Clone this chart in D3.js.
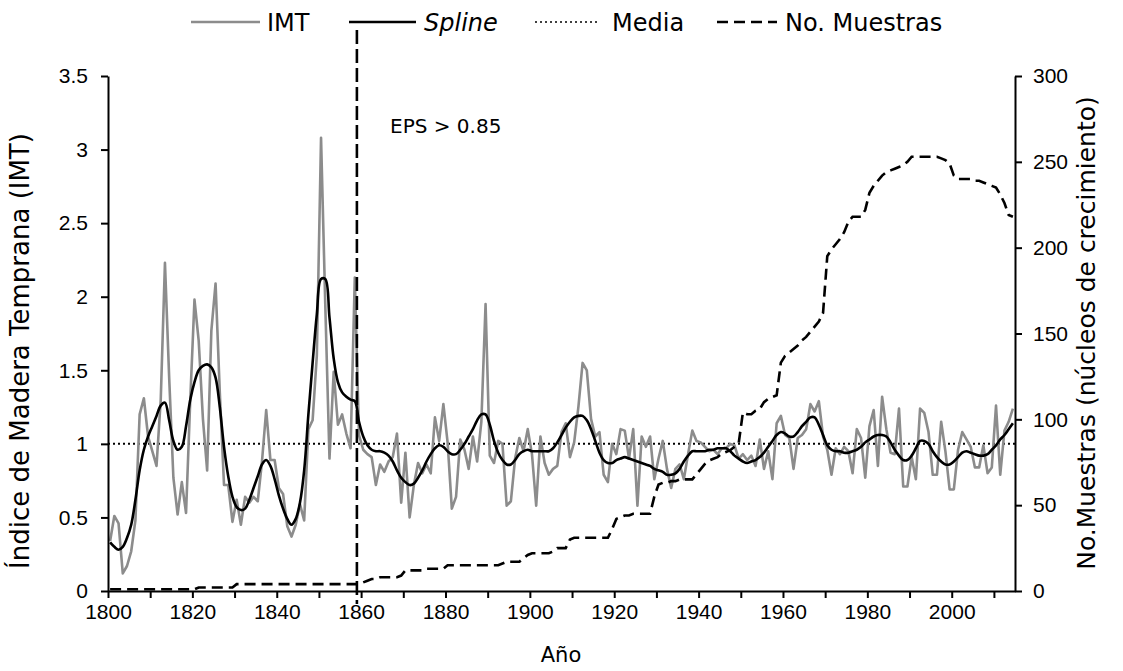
<!DOCTYPE html>
<html>
<head>
<meta charset="utf-8">
<script src="https://cdn.jsdelivr.net/npm/d3@7.9.0/dist/d3.min.js"></script>
<style>
  body { margin: 0; background: #fff; }
  svg { display: block; font-family: "DejaVu Sans", Verdana, sans-serif; }
  .axis path, .axis line { stroke: #000; stroke-width: 2; }
  .axis text { font-size: 21px; fill: #000; }
</style>
</head>
<body>
<svg width="1123" height="671"></svg>
<script>
// first year of every series, one value per year from here on
const startYear = 1800;

// Indice de Madera Temprana, one value per year (1800-2014)
const imt = [
  0.34, 0.51, 0.46, 0.12, 0.17, 0.27, 0.48, 1.20, 1.31, 1.05,
  0.95, 0.85, 1.30, 2.23, 1.45, 0.77, 0.52, 0.74, 0.53, 1.30,
  1.98, 1.70, 1.17, 0.82, 1.77, 2.09, 1.35, 0.72, 0.72, 0.47,
  0.62, 0.45, 0.64, 0.60, 0.64, 0.61, 0.88, 1.23, 0.89, 0.89,
  0.70, 0.66, 0.44, 0.37, 0.45, 0.59, 0.48, 1.10, 1.16, 1.60,
  3.08, 1.95, 0.90, 1.49, 1.13, 1.20, 1.07, 0.97, 2.13, 1.06,
  0.96, 0.93, 0.91, 0.72, 0.86, 0.81, 0.88, 0.91, 1.07, 0.60,
  0.94, 0.50, 0.72, 0.87, 0.80, 0.86, 0.80, 1.18, 1.02, 1.27,
  1.01, 0.56, 0.64, 1.03, 0.96, 0.83, 1.05, 0.88, 1.15, 1.95,
  0.92, 0.87, 1.02, 1.00, 0.58, 0.61, 0.90, 1.04, 0.95, 1.10,
  0.93, 0.58, 1.05, 0.87, 0.79, 0.83, 0.85, 1.08, 1.14, 0.91,
  1.01, 1.25, 1.55, 1.50, 1.17, 1.05, 1.08, 0.79, 0.74, 1.00,
  0.93, 1.10, 1.09, 0.90, 1.10, 0.58, 1.05, 0.98, 1.05, 0.76,
  0.90, 1.02, 0.83, 0.70, 0.83, 0.86, 0.76, 0.93, 1.09, 1.02,
  1.01, 0.98, 0.95, 0.96, 0.93, 0.97, 0.97, 1.00, 0.99, 0.90,
  0.93, 0.89, 0.92, 0.85, 1.03, 0.83, 0.95, 0.76, 1.14, 1.19,
  1.06, 1.04, 0.83, 1.04, 1.06, 1.10, 1.27, 1.22, 1.29, 1.05,
  0.96, 0.79, 0.97, 0.93, 0.98, 0.95, 0.80, 1.10, 1.04, 0.77,
  1.12, 1.23, 0.85, 1.32, 1.10, 0.94, 0.93, 1.24, 0.71, 0.71,
  0.91, 0.76, 1.24, 1.21, 1.08, 0.79, 0.79, 1.15, 0.95, 0.69,
  0.69, 0.96, 1.08, 1.03, 0.98, 0.84, 0.84, 0.99, 0.80, 0.84,
  1.26, 0.79, 1.09, 1.15, 1.24
];

// smoothing spline, one value per year
const spline = [
  0.33, 0.30, 0.28, 0.30, 0.36, 0.45, 0.62, 0.82, 0.96, 1.05,
  1.12, 1.19, 1.26, 1.28, 1.16, 1.02, 0.96, 0.98, 1.12, 1.30,
  1.42, 1.50, 1.53, 1.54, 1.52, 1.45, 1.25, 0.98, 0.78, 0.64,
  0.57, 0.55, 0.56, 0.62, 0.70, 0.78, 0.86, 0.89, 0.85, 0.76,
  0.65, 0.56, 0.49, 0.45, 0.49, 0.60, 0.82, 1.20, 1.55, 1.88,
  2.12, 2.12, 1.86, 1.58, 1.42, 1.35, 1.32, 1.30, 1.29, 1.15,
  1.05, 0.99, 0.96, 0.95, 0.95, 0.94, 0.92, 0.88, 0.82, 0.77,
  0.74, 0.72, 0.73, 0.77, 0.82, 0.88, 0.93, 0.97, 0.99, 0.98,
  0.95, 0.93, 0.93, 0.96, 1.00, 1.05, 1.10, 1.16, 1.20, 1.20,
  1.13, 1.02, 0.94, 0.89, 0.86, 0.86, 0.89, 0.93, 0.95, 0.96,
  0.95, 0.95, 0.95, 0.95, 0.95, 0.97, 1.01, 1.06, 1.11, 1.15,
  1.18, 1.19, 1.19, 1.16, 1.10, 1.02, 0.94, 0.89, 0.87, 0.87,
  0.89, 0.90, 0.91, 0.90, 0.89, 0.88, 0.87, 0.86, 0.85, 0.83,
  0.82, 0.81, 0.79, 0.79, 0.80, 0.83, 0.88, 0.92, 0.95, 0.95,
  0.95, 0.95, 0.96, 0.96, 0.97, 0.97, 0.97, 0.95, 0.92, 0.90,
  0.88, 0.87, 0.88, 0.89, 0.91, 0.94, 0.98, 1.02, 1.06, 1.08,
  1.07, 1.05, 1.05, 1.08, 1.12, 1.15, 1.18, 1.18, 1.13, 1.06,
  0.99, 0.96, 0.95, 0.95, 0.94, 0.94, 0.95, 0.96, 0.98, 1.01,
  1.03, 1.05, 1.06, 1.06, 1.05, 1.01, 0.96, 0.92, 0.89, 0.89,
  0.92, 0.97, 1.02, 1.02, 1.00, 0.95, 0.91, 0.88, 0.86, 0.86,
  0.88, 0.91, 0.94, 0.95, 0.94, 0.93, 0.92, 0.92, 0.93, 0.96,
  0.99, 1.03, 1.06, 1.10, 1.14
];

// number of cores per year (right axis)
const muestras = [
  1, 1, 1, 1, 1, 1, 1, 1, 1, 1,
  1, 1, 1, 1, 1, 1, 1, 1, 1, 1,
  1, 2, 2, 2, 2, 2, 2, 2, 2, 2,
  4, 4, 4, 4, 4, 4, 4, 4, 4, 4,
  4, 4, 4, 4, 4, 4, 4, 4, 4, 4,
  4, 4, 4, 4, 4, 4, 4, 4, 4, 4,
  5, 6, 7, 7, 8, 8, 8, 8, 8, 9,
  12, 12, 12, 12, 12, 13, 13, 13, 13, 13,
  15, 15, 15, 15, 15, 15, 15, 15, 15, 15,
  15, 15, 15, 16, 17, 17, 17, 17, 19, 21,
  22, 22, 22, 22, 22, 23, 25, 25, 25, 30,
  31, 31, 31, 31, 31, 31, 31, 31, 31, 36,
  42, 43, 44, 44, 45, 45, 45, 45, 45, 55,
  62, 63, 63, 64, 64, 65, 65, 65, 65, 68,
  71, 74, 76, 77, 78, 80, 81, 82, 84, 86,
  104, 103, 103, 105, 106, 110, 112, 113, 114, 133,
  137, 139, 141, 143, 146, 148, 151, 154, 157, 162,
  195, 199, 202, 205, 209, 215, 218, 218, 218, 222,
  232, 236, 239, 242, 244, 245, 246, 247, 248, 250,
  253, 253, 253, 253, 253, 253, 253, 252, 251, 249,
  242, 240, 240, 240, 240, 239, 239, 238, 237, 236,
  235, 231, 226, 219, 218
];

const media = 1;          // mean of the index
const epsYear = 1859;     // EPS > 0.85 from here on
const xTicks = [1800, 1810, 1820, 1830, 1840, 1850, 1860, 1870, 1880, 1890, 1900,
                1910, 1920, 1930, 1940, 1950, 1960, 1970, 1980, 1990, 2000, 2010];
const leftTicks = [0, 0.5, 1, 1.5, 2, 2.5, 3, 3.5];
const rightTicks = [0, 50, 100, 150, 200, 250, 300];

const svg = d3.select('svg');
const m = { left: 108, right: 1015, top: 76, bottom: 591 };

const x = d3.scaleLinear().domain([1800, 2015]).range([m.left, m.right]);
const yL = d3.scaleLinear().domain([0, 3.5]).range([m.bottom, m.top]);
const yR = d3.scaleLinear().domain([0, 300]).range([m.bottom, m.top]);

// each year sits in the middle of its slot
const px = (d, i) => x(startYear + i + 0.5);

// media line
svg.append('line')
    .attr('x1', m.left).attr('x2', m.right)
    .attr('y1', yL(media)).attr('y2', yL(media))
    .attr('stroke', '#000').attr('stroke-width', 2)
    .attr('stroke-dasharray', '2,3');

// IMT
svg.append('path')
    .datum(imt)
    .attr('fill', 'none')
    .attr('stroke', '#8c8c8c')
    .attr('stroke-width', 2.6)
    .attr('stroke-linejoin', 'round')
    .attr('d', d3.line().x(px).y(d => yL(d)));

// spline
svg.append('path')
    .datum(spline)
    .attr('fill', 'none')
    .attr('stroke', '#000')
    .attr('stroke-width', 2.6)
    .attr('d', d3.line().x(px).y(d => yL(d)).curve(d3.curveCatmullRom));

// sample depth
svg.append('path')
    .datum(muestras)
    .attr('fill', 'none')
    .attr('stroke', '#000')
    .attr('stroke-width', 2.6)
    .attr('stroke-dasharray', '11,6')
    .attr('d', d3.line().x(px).y(d => yR(d)));

// axes
svg.append('g')
    .attr('class', 'axis')
    .attr('transform', `translate(0,${m.bottom})`)
    .call(d3.axisBottom(x).tickValues(xTicks).tickSize(7).tickSizeOuter(0)
        .tickFormat(d => d % 20 === 0 ? d : ''))
    .selectAll('text').attr('y', 13);

svg.append('g')
    .attr('class', 'axis')
    .attr('transform', `translate(${m.left},0)`)
    .call(d3.axisLeft(yL).tickValues(leftTicks).tickSize(7).tickSizeOuter(0)
        .tickFormat(d => String(d)))
    .selectAll('text').attr('x', -20);

svg.append('g')
    .attr('class', 'axis')
    .attr('transform', `translate(${m.right},0)`)
    .call(d3.axisRight(yR).tickValues(rightTicks).tickSize(7).tickSizeOuter(0))
    .selectAll('text').attr('x', 18);

// EPS threshold
svg.append('line')
    .attr('x1', x(epsYear)).attr('x2', x(epsYear))
    .attr('y1', 30).attr('y2', 604)
    .attr('stroke', '#000').attr('stroke-width', 2.6)
    .attr('stroke-dasharray', '14,5');

svg.append('text')
    .attr('x', 390).attr('y', 133)
    .attr('font-size', 20)
    .text('EPS > 0.85');

// axis titles
svg.append('text')
    .attr('x', 561).attr('y', 662)
    .attr('text-anchor', 'middle').attr('font-size', 21)
    .text('Año');

svg.append('text')
    .attr('transform', 'translate(29,351) rotate(-90)')
    .attr('text-anchor', 'middle').attr('font-size', 26)
    .text('Índice de Madera Temprana (IMT)');

svg.append('text')
    .attr('transform', 'translate(1095,333) rotate(-90)')
    .attr('text-anchor', 'middle').attr('font-size', 25)
    .text('No.Muestras (núcleos de crecimiento)');

// legend
const legend = [
  { label: 'IMT', color: '#8c8c8c', dash: null, x1: 191, x2: 260, tx: 267, italic: false },
  { label: 'Spline', color: '#000', dash: null, x1: 349, x2: 416, tx: 424, italic: true },
  { label: 'Media', color: '#000', dash: '2,3', x1: 535, x2: 597, tx: 612, italic: false },
  { label: 'No. Muestras', color: '#000', dash: '11,6', x1: 717, x2: 777, tx: 785, italic: false }
];
legend.forEach(d => {
    svg.append('line')
        .attr('x1', d.x1).attr('x2', d.x2)
        .attr('y1', 22).attr('y2', 22)
        .attr('stroke', d.color)
        .attr('stroke-width', d.dash === '2,3' ? 1.5 : 2.6)
        .attr('stroke-dasharray', d.dash);
    svg.append('text')
        .attr('x', d.tx).attr('y', 31)
        .attr('font-size', 24)
        .attr('font-style', d.italic ? 'italic' : null)
        .text(d.label);
});
</script>
</body>
</html>
